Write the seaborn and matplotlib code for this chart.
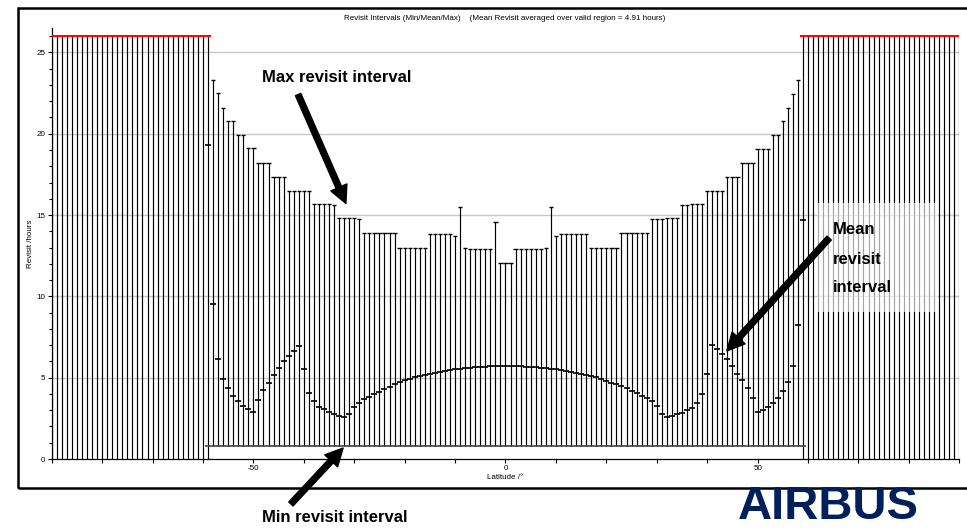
import numpy as np
import pandas as pd
import seaborn as sns
import matplotlib.pyplot as plt
from matplotlib.patches import Rectangle, FancyArrowPatch

# Latitudes with full coverage data (deg); outside this the satellite never revisits
valid_lat = list(range(-59, 60))

# Max revisit interval per latitude (hours), -59 .. 59 (26 = no revisit / off scale)
max_hours = [26,
             23.3, 22.5, 21.6, 20.8, 20.8, 19.9, 19.9, 19.1, 19.1,
             18.2, 18.2, 18.2, 17.35, 17.35, 17.35,
             16.5, 16.5, 16.5, 16.5, 16.45,
             15.65, 15.65, 15.65, 15.65, 15.6,
             14.8, 14.8, 14.8, 14.8, 14.75,
             13.9, 13.9, 13.9, 13.9, 13.9, 13.9, 13.9,
             13.0, 13.0, 13.0, 13.0, 13.0, 13.0,
             13.83, 13.83, 13.83, 13.83, 13.83, 13.7,
             15.47, 12.96, 12.9, 12.9, 12.9, 12.9, 12.9, 14.58,
             12.04, 12.04, 12.04,
             12.9, 12.9, 12.9, 12.9, 12.9, 12.9, 12.96, 15.47, 13.7,
             13.83, 13.83, 13.83, 13.83, 13.83, 13.83,
             13.0, 13.0, 13.0, 13.0, 13.0, 13.0,
             13.9, 13.9, 13.9, 13.9, 13.9, 13.9,
             14.75, 14.75, 14.75, 14.8, 14.8, 14.8,
             15.6, 15.6, 15.65, 15.65, 15.65,
             16.47, 16.47, 16.5, 16.5,
             17.35, 17.35, 17.35, 18.2, 18.2, 18.2,
             19.08, 19.08, 19.08, 19.9, 19.9,
             20.76, 21.58, 22.44, 23.28,
             26]

# Mean revisit interval per latitude (hours), -59 .. 59
mean_hours = [19.3, 9.52, 6.17, 4.94, 4.35, 3.88, 3.57, 3.26, 3.06, 2.91,
              3.63, 4.25, 4.70, 5.17, 5.62, 6.03, 6.34, 6.65, 6.95, 5.52,
              4.08, 3.57, 3.22, 3.06, 2.91, 2.77, 2.67, 2.56, 2.75, 3.22,
              3.47, 3.69, 3.84, 3.97, 4.12, 4.29, 4.45, 4.60, 4.72, 4.84,
              4.94, 5.03, 5.10, 5.19, 5.25, 5.31, 5.37, 5.42, 5.48, 5.54,
              5.54, 5.60, 5.60, 5.64, 5.64, 5.64, 5.70, 5.70, 5.70,
              5.70,
              5.70, 5.70, 5.70, 5.64, 5.64, 5.64, 5.60, 5.60, 5.54, 5.54,
              5.48, 5.42, 5.37, 5.31, 5.25, 5.19, 5.10, 5.03, 4.90, 4.82,
              4.70, 4.60, 4.49, 4.35, 4.18, 4.04, 3.88, 3.73, 3.59, 3.26,
              2.75, 2.56, 2.65, 2.75, 2.85, 3.00, 3.16, 3.47, 3.98, 5.23,
              7.00, 6.75, 6.44, 6.13, 5.72, 5.23, 4.86, 4.39, 3.73, 2.91,
              3.00, 3.22, 3.47, 3.77, 4.20, 4.76, 5.72, 8.25, 14.7]

# Min revisit interval (hours) - flat over the valid region
min_hours = [0.82] * len(valid_lat)

# Polar caps with no revisit at all
polar_lat = list(range(-90, -59)) + list(range(60, 91))
no_revisit = 26

title = ("Revisit Intervals (Min/Mean/Max)    "
         "(Mean Revisit averaged over valid region = 4.91 hours)")

df = pd.DataFrame({'lat': valid_lat, 'max': max_hours,
                   'mean': mean_hours, 'min': min_hours})

sns.set_theme(style='white')
plt.rcParams['font.family'] = ['Liberation Sans', 'DejaVu Sans']
plt.rcParams['text.color'] = 'black'
plt.rcParams['axes.labelcolor'] = 'black'
plt.rcParams['xtick.color'] = 'black'
plt.rcParams['ytick.color'] = 'black'

W, H = 967, 529
fig = plt.figure(figsize=(W / 100, H / 100), dpi=100)


def fx(px):
    return px / W


def fy(py):
    return 1 - py / H


x0, x1 = 51.7, 959.3
y0, ytop = 459, 28
ax = fig.add_axes([fx(x0), fy(y0), (x1 - x0) / W, (y0 - ytop) / H])

# grid
for g in [5, 10, 15, 20, 25]:
    ax.axhline(g, color='#c8c8c8', lw=1, zorder=0)

line_kw = dict(colors='black', lw=0.85)
hw = 0.42

# polar latitudes: full bars up to no-revisit level
ax.vlines(polar_lat, 0, no_revisit, **line_kw)

full = df[df['max'] >= no_revisit]
part = df[df['max'] < no_revisit]
ax.vlines(full['lat'], 0, no_revisit, **line_kw)
ax.vlines(part['lat'], part['min'], part['max'], **line_kw)

# max caps
ax.hlines(part['max'], part['lat'] - hw, part['lat'] + hw, colors='black', lw=1)
# min caps
ax.hlines(df['min'], df['lat'] - 0.5, df['lat'] + 0.5, colors='#444444', lw=1.2)

# red caps where no revisit
red_lat = np.array(polar_lat + list(full['lat']))
ax.hlines([no_revisit] * len(red_lat), red_lat - 0.5, red_lat + 0.5,
          colors='red', lw=1.4, zorder=4)

# mean marks
sns.scatterplot(data=df, x='lat', y='mean', marker='_', s=13, color='black',
                linewidth=1.2, ax=ax, zorder=5, legend=False)

ax.set_xlim(-90, 90)
ax.set_ylim(0, 26.5)
ax.set_xticks(range(-90, 91, 10))
ax.set_xticklabels(['-50' if t == -50 else '0' if t == 0 else '50' if t == 50 else ''
                    for t in range(-90, 91, 10)])
ax.set_yticks([0, 5, 10, 15, 20, 25])
ax.set_yticks(range(0, 27), minor=True)
ax.tick_params(axis='both', which='major', direction='out', length=3,
               width=0.8, color='black', labelsize=5.8, pad=1.5,
               bottom=True, left=True)
ax.tick_params(axis='y', which='minor', direction='out', length=2,
               width=0.8, color='black', left=True)
ax.set_xlabel('Latitude /°', fontsize=5.8, labelpad=1)
ax.set_ylabel('Revisit /hours', fontsize=5.8, labelpad=2)
for s in ['top', 'right']:
    ax.spines[s].set_visible(False)
for s in ['left', 'bottom']:
    ax.spines[s].set_color('black')
    ax.spines[s].set_linewidth(0.9)
ax.set_facecolor('white')

fig.text(fx(505), fy(19), title, ha='center', va='center', fontsize=5.8)

# outer frame
fig.add_artist(Rectangle((fx(18), fy(488)), 1.0, (488 - 8) / H,
                         transform=fig.transFigure, fill=False,
                         ec='black', lw=1.8, clip_on=False))

# annotations
arrow_kw = dict(arrowstyle='simple,head_length=0.9,head_width=0.9,tail_width=0.3',
                color='black', mutation_scale=14)
txt_kw = dict(fontsize=12, fontweight='bold', ha='left', va='center', color='black')

fig.text(fx(262), fy(78), 'Max revisit interval', **txt_kw)
fig.add_artist(FancyArrowPatch((fx(297), fy(92)), (fx(347), fy(206)),
                               transform=fig.transFigure, **arrow_kw))

fig.add_artist(Rectangle((fx(817), fy(312)), (938 - 817) / W, (312 - 203) / H,
                         transform=fig.transFigure, fc='white', ec='none',
                         alpha=0.65, zorder=2))
for i, word in enumerate(['Mean', 'revisit', 'interval']):
    fig.text(fx(833), fy(230 + 29 * i), word, zorder=3, **txt_kw)
fig.add_artist(FancyArrowPatch((fx(831), fy(236)), (fx(725), fy(353)),
                               transform=fig.transFigure, zorder=3, **arrow_kw))

fig.text(fx(262), fy(518), 'Min revisit interval', **txt_kw)
fig.add_artist(FancyArrowPatch((fx(289), fy(506)), (fx(345), fy(446)),
                               transform=fig.transFigure, **arrow_kw))

# logo text (kept fully inside the picture)
fig.text(fx(828), fy(519), 'AIRBUS', fontsize=34, fontweight='bold',
         color='#00205b', ha='center', va='baseline')

fig.savefig('out.png', dpi=100, facecolor='white')
